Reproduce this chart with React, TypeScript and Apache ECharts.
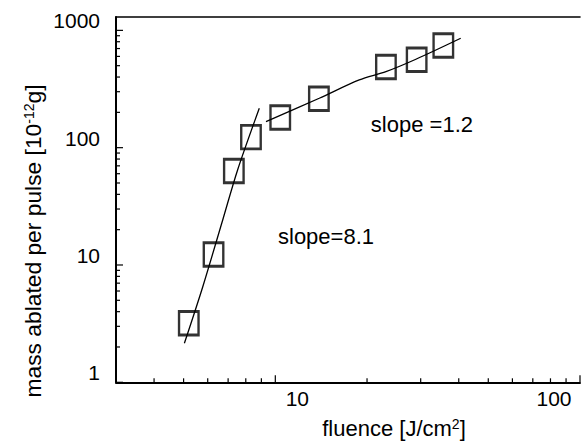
import React, { useEffect, useRef } from 'react';
import * as echarts from 'echarts';

// ---- data ----
const fluence = [5.2, 6.27, 7.31, 8.32, 10.38, 13.9, 23.07, 29.1, 35.6];
const massAblated = [3.19, 12.29, 63.3, 123, 180.8, 261, 487.6, 562, 743];

const steepFitX = [5.03, 5.78, 6.72, 7.52, 8.86];
const steepFitY = [2.15, 6.53, 24.2, 64.6, 216.8];
const shallowFitX = [9.32, 13.94, 18.86, 23.07, 28.93, 40.6];
const shallowFitY = [166.6, 263.7, 377.7, 444.6, 567, 856];

const xMajorTicks = [10, 100];
const xTickLabels = ['10', '100'];
const xMinorTicks = [4, 5, 6, 7, 8, 9, 20, 30, 40, 50, 60, 70, 80, 90];
const yMajorTicks = [1, 10, 100, 1000];
const yTickLabels = ['1', '10', '100', '1000'];
const yMinorTicks = [2, 3, 4, 5, 6, 7, 8, 9, 20, 30, 40, 50, 60, 70, 80, 90, 200, 300, 400, 500, 600, 700, 800, 900];

const X_MIN = 3;
const X_MAX = 100;
const Y_MIN = 1;
const Y_MAX = 1300;

// ---- styles ----
const FONT = '"Liberation Sans", Arial, Helvetica, sans-serif';
const X_LABEL_SHIFT = [22, -26];
const X_LABEL_DOWN = 16;
const Y_LABEL_RAISE = 9.5;
const Y_LABEL_GAP = 16;
const MAJOR_LEN = 7;
const MINOR_LEN = 4;

const zip = (a: number[], b: number[]) => a.map((v, i) => [v, b[i]]);

export default function App() {
  const ref = useRef<HTMLDivElement>(null);
  useEffect(() => {
    if (!ref.current) return;
    const chart = echarts.init(ref.current, undefined, { renderer: 'svg' });

    const xTickData = [
      ...xMajorTicks.map((v, i) => [v, Y_MIN, 1, i]),
      ...xMinorTicks.map((v) => [v, Y_MIN, 0, -1]),
    ];
    const yTickData = [
      ...yMajorTicks.map((v, i) => [X_MIN, v, 1, i]),
      ...yMinorTicks.map((v) => [X_MIN, v, 0, -1]),
    ];

    const axisBase = {
      type: 'log',
      logBase: 10,
      axisTick: { show: false },
      axisLabel: { show: false },
      splitLine: { show: false },
    };

    const option: any = {
      animation: false,
      backgroundColor: '#fff',
      grid: { left: 116, right: 2, top: 17, bottom: 58.7, containLabel: false },
      xAxis: [
        {
          ...axisBase,
          min: X_MIN,
          max: X_MAX,
          position: 'bottom',
          axisLine: { show: true, lineStyle: { color: '#000', width: 2 } },
        },
        {
          ...axisBase,
          min: X_MIN,
          max: X_MAX,
          position: 'top',
          axisLine: { show: true, lineStyle: { color: '#000', width: 1.6 } },
        },
      ],
      yAxis: {
        ...axisBase,
        min: Y_MIN,
        max: Y_MAX,
        axisLine: { show: true, lineStyle: { color: '#000', width: 2 } },
      },
      series: [
        {
          type: 'custom',
          silent: true,
          clip: false,
          data: xTickData,
          renderItem: (params: any, api: any) => {
            const v = api.value(0);
            const major = api.value(2) === 1;
            const li = api.value(3);
            const p = api.coord([v, Y_MIN]);
            const len = major ? MAJOR_LEN : MINOR_LEN;
            const children: any[] = [
              {
                type: 'line',
                shape: { x1: p[0], y1: p[1], x2: p[0], y2: p[1] - len },
                style: { stroke: '#000', lineWidth: 1.2 },
              },
            ];
            if (major && li >= 0) {
              children.push({
                type: 'text',
                x: p[0] + X_LABEL_SHIFT[li],
                y: p[1] + X_LABEL_DOWN,
                style: {
                  text: xTickLabels[li],
                  fontFamily: FONT,
                  fontSize: 21,
                  fill: '#000',
                  align: 'center',
                  verticalAlign: 'middle',
                },
              });
            }
            return { type: 'group', children };
          },
        },
        {
          type: 'custom',
          silent: true,
          clip: false,
          data: yTickData,
          renderItem: (params: any, api: any) => {
            const v = api.value(1);
            const major = api.value(2) === 1;
            const li = api.value(3);
            const p = api.coord([X_MIN, v]);
            const len = major ? MAJOR_LEN : MINOR_LEN;
            const children: any[] = [
              {
                type: 'line',
                shape: { x1: p[0], y1: p[1], x2: p[0] + len, y2: p[1] },
                style: { stroke: '#000', lineWidth: 1.2 },
              },
            ];
            if (major && li >= 0) {
              children.push({
                type: 'text',
                x: p[0] - Y_LABEL_GAP,
                y: p[1] - Y_LABEL_RAISE,
                style: {
                  text: yTickLabels[li],
                  fontFamily: FONT,
                  fontSize: 21,
                  fill: '#000',
                  align: 'right',
                  verticalAlign: 'middle',
                },
              });
            }
            return { type: 'group', children };
          },
        },
        {
          type: 'line',
          data: zip(steepFitX, steepFitY),
          showSymbol: false,
          smooth: 0.3,
          lineStyle: { color: '#000', width: 1.3 },
          silent: true,
        },
        {
          type: 'line',
          data: zip(shallowFitX, shallowFitY),
          showSymbol: false,
          smooth: 0.3,
          lineStyle: { color: '#000', width: 1.3 },
          silent: true,
        },
        {
          type: 'scatter',
          data: zip(fluence, massAblated),
          symbol: 'rect',
          symbolSize: [19.5, 23.5],
          itemStyle: { color: 'rgba(0,0,0,0)', borderColor: '#000', borderWidth: 2.6 },
          silent: true,
          z: 5,
        },
      ],
      graphic: [
        {
          type: 'text',
          x: 33,
          y: 241,
          rotation: Math.PI / 2,
          style: {
            text: 'mass ablated per pulse [10{sup|-12}g]',
            fontFamily: FONT,
            fontSize: 22.8,
            fill: '#000',
            align: 'center',
            verticalAlign: 'middle',
            rich: {
              sup: { fontFamily: FONT, fontSize: 14, verticalAlign: 'top', lineHeight: 14, fill: '#000' },
            },
          },
        },
        {
          type: 'text',
          x: 394,
          y: 428,
          style: {
            text: 'fluence [J/cm{sup|2}]',
            fontFamily: FONT,
            fontSize: 22,
            fill: '#000',
            align: 'center',
            verticalAlign: 'middle',
            rich: {
              sup: { fontFamily: FONT, fontSize: 14, verticalAlign: 'top', lineHeight: 14, fill: '#000' },
            },
          },
        },
        {
          type: 'text',
          x: 278,
          y: 236,
          style: {
            text: 'slope=8.1',
            fontFamily: FONT,
            fontSize: 22,
            fill: '#000',
            align: 'left',
            verticalAlign: 'middle',
          },
        },
        {
          type: 'text',
          x: 473,
          y: 124,
          style: {
            text: 'slope =1.2',
            fontFamily: FONT,
            fontSize: 22,
            fill: '#000',
            align: 'right',
            verticalAlign: 'middle',
          },
        },
      ],
    };
    chart.setOption(option);
    return () => chart.dispose();
  }, []);
  return (
    <div
      ref={ref}
      style={{ position: 'fixed', left: 0, top: 0, width: 582, height: 441, background: '#fff' }}
    />
  );
}
